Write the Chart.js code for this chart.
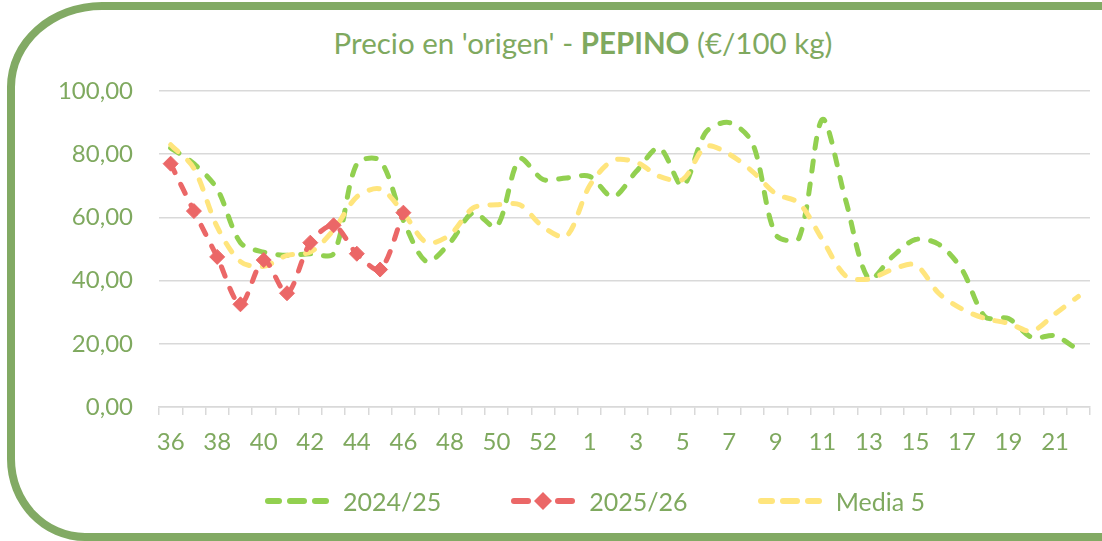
<!DOCTYPE html>
<html>
<head>
<meta charset="utf-8">
<script src="https://cdn.jsdelivr.net/npm/chart.js@4.4.1/dist/chart.umd.min.js"></script>
<style>
    body { margin: 0; width: 1102px; height: 541px; overflow: hidden; background: #fff; }
    .frame {
        position: absolute; left: 7px; top: 2px; width: 1200px; height: 539px;
        box-sizing: border-box; border: 8px solid #82aa64;
        border-radius: 95px 0 0 78px / 85px 0 0 82px;
    }
    .title {
        position: absolute; left: 0; top: 28px; width: 1166px; text-align: center;
        font-family: Lato, sans-serif; font-size: 29.5px; line-height: 30px; color: #7fa95f;
    }
    .legend {
        position: absolute; left: 265px; top: 486px; display: flex; gap: 70px;
        font-family: Lato, sans-serif; font-size: 25px; line-height: 30px; color: #7fa95f;
    }
    .legend .item { display: flex; align-items: center; }
    .legend canvas { margin-right: 14px; }
    #myChart { position: absolute; left: 0; top: 0; }
</style>
</head>
<body>
<div class="frame"></div>
<div class="title">Precio en 'origen' - <b>PEPINO</b> (€/100 kg)</div>
<canvas id="myChart" width="1102" height="541"></canvas>
<div class="legend" id="legend"></div>
<script>
// semanas 36..53 y 1..22
const weeks = [36, 37, 38, 39, 40, 41, 42, 43, 44, 45, 46, 47, 48, 49, 50, 51, 52, 53,
    1, 2, 3, 4, 5, 6, 7, 8, 9, 10, 11, 12, 13, 14, 15, 16, 17, 18, 19, 20, 21, 22]

const s2024 = [82, 77, 69, 52, 49, 48, 48.5, 48.5, 77, 78, 59, 46, 52, 61.5, 57, 78.5, 72, 72.5,
    73, 66.5, 74.5, 82, 70, 87, 90, 83.5, 54.5, 53.5, 91, 65.5, 40.5, 47.5, 53, 51.5, 43.5, 28.5, 28, 22, 22.5, 18]

const s2025 = [77, 62, 47.5, 32.5, 46.5, 36, 52, 57.5, 48.5, 43.5, 61.5]

const media5 = [83, 75.5, 57, 46, 44.5, 48, 49, 56, 66.5, 69, 61.5, 52, 54.5, 63, 64, 64, 57, 54,
    70, 78, 77.5, 73, 72, 82.5, 80, 74.5, 67.5, 64.5, 53, 41.5, 40.5, 43.5, 45, 36, 31, 28, 26.5, 24, 29.5, 35]

const seriesNames = ['2024/25', '2025/26', 'Media 5']

const GREEN = '#92d050'
const RED = '#eb6767'
const YELLOW = '#ffe57d'
const TEXT = '#7fa95f'
const GRID = '#d9d9d9'
const FONT = 'Lato, sans-serif'

// muestra de leyenda: 3 trazos, el rojo con rombo en medio
function legendSample(color, diamond) {
    const c = document.createElement('canvas')
    c.width = 64
    c.height = 20
    const g = c.getContext('2d')
    g.strokeStyle = color
    g.fillStyle = color
    g.lineWidth = 6
    g.lineCap = 'round'
    const segs = diamond ? [[3, 17], [47, 61]] : [[3, 14], [25, 39], [50, 61]]
    segs.forEach(([a, b]) => {
        g.beginPath()
        g.moveTo(a, 10)
        g.lineTo(b, 10)
        g.stroke()
    })
    if (diamond) {
        g.beginPath()
        g.moveTo(32, 1)
        g.lineTo(41, 10)
        g.lineTo(32, 19)
        g.lineTo(23, 10)
        g.closePath()
        g.fill()
    }
    return c
}

const legendColors = [GREEN, RED, YELLOW]
const legendEl = document.getElementById('legend')
seriesNames.forEach((name, i) => {
    const item = document.createElement('div')
    item.className = 'item'
    item.appendChild(legendSample(legendColors[i], i === 1))
    const txt = document.createElement('span')
    txt.textContent = name
    item.appendChild(txt)
    legendEl.appendChild(item)
})

const ctx = document.getElementById('myChart').getContext('2d')

const data = {
    labels: weeks,
    datasets: [
        {
            label: seriesNames[0],
            data: s2024,
            borderColor: GREEN,
            backgroundColor: GREEN,
            borderWidth: 5,
            borderDash: [10, 13],
            borderCapStyle: 'round',
            pointRadius: 0,
            tension: 0.3,
            order: 2
        },
        {
            label: seriesNames[1],
            data: s2025,
            borderColor: RED,
            backgroundColor: RED,
            borderWidth: 5,
            borderDash: [10, 13],
            borderCapStyle: 'round',
            pointStyle: 'rectRot',
            pointRadius: 7.5,
            pointBorderWidth: 1,
            tension: 0.3,
            order: 0
        },
        {
            label: seriesNames[2],
            data: media5,
            borderColor: YELLOW,
            backgroundColor: YELLOW,
            borderWidth: 5,
            borderDash: [10, 13],
            borderCapStyle: 'round',
            pointRadius: 0,
            tension: 0.3,
            order: 1
        }
    ]
}

const config = {
    type: 'line',
    data: data,
    options: {
        responsive: false,
        animation: false,
        layout: {
            padding: { left: 0, right: 12, top: 91, bottom: 74 }
        },
        plugins: {
            legend: { display: false },
            tooltip: { enabled: false }
        },
        scales: {
            x: {
                offset: true,
                afterFit: (scale) => { scale.height = 60 },
                grid: {
                    drawOnChartArea: false,
                    offset: true,
                    tickLength: 8,
                    color: GRID,
                    lineWidth: 1.5
                },
                border: { color: GRID, width: 1.5 },
                ticks: {
                    autoSkip: false,
                    maxRotation: 0,
                    padding: 13,
                    color: TEXT,
                    font: { family: FONT, size: 24 },
                    callback: (val, idx) => idx % 2 === 0 ? weeks[idx] : ''
                }
            },
            y: {
                min: 0,
                max: 100,
                afterFit: (scale) => { scale.width = 159 },
                grid: { color: GRID, lineWidth: 1.5, drawTicks: false },
                border: { display: false },
                ticks: {
                    stepSize: 20,
                    padding: 26,
                    color: TEXT,
                    font: { family: FONT, size: 24 },
                    callback: (v) => v.toFixed(2).replace('.', ',')
                }
            }
        }
    }
}

const myChart = new Chart(ctx, config)
</script>
</body>
</html>
